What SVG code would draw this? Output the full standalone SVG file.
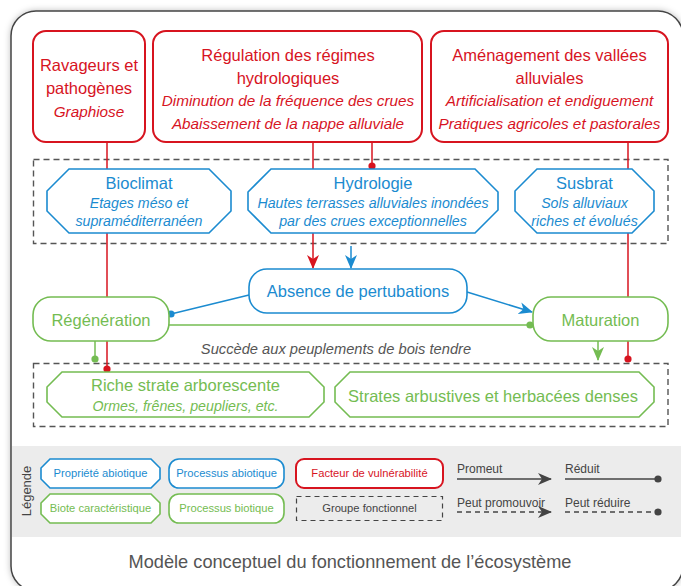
<svg xmlns="http://www.w3.org/2000/svg" width="681" height="586" viewBox="0 0 681 586">
<style>
text{font-family:"Liberation Sans",Arial,sans-serif;}
.t{font-size:16.5px;text-anchor:middle;}
.i{font-size:15.3px;font-style:italic;text-anchor:middle;}
.hi{font-size:14.2px;font-style:italic;text-anchor:middle;}
.red{fill:#d7141f;}
.blue{fill:#1b8bd0;}
.green{fill:#74bc52;}
.fr{fill:#fff;stroke:#d7141f;stroke-width:2;}
.fb{fill:#fff;stroke:#1b8bd0;stroke-width:1.6;}
.fg{fill:#fff;stroke:#74bc52;stroke-width:1.6;}
.grp{fill:none;stroke:#555;stroke-width:1.4;stroke-dasharray:6 4;}
.cr{stroke:#d7141f;stroke-width:1.5;fill:none;}
.cb{stroke:#1b8bd0;stroke-width:1.5;fill:none;}
.cg{stroke:#74bc52;stroke-width:1.5;fill:none;}
.ck{stroke:#444;stroke-width:1.5;fill:none;}
.lg{font-size:11.2px;text-anchor:middle;}
.ll{font-size:12px;fill:#444;}
</style>
<defs>
<filter id="sh" x="-5%" y="-5%" width="110%" height="110%"><feDropShadow dx="0" dy="0" stdDeviation="3" flood-color="#000" flood-opacity="0.25"/></filter>
<marker id="ar" viewBox="0 0 14 12" refX="13" refY="6" markerWidth="14" markerHeight="12" markerUnits="userSpaceOnUse" orient="auto"><path d="M0,0 L14,6 L0,12 L4,6 z" fill="#d7141f"/></marker>
<marker id="ab" viewBox="0 0 14 12" refX="13" refY="6" markerWidth="14" markerHeight="12" markerUnits="userSpaceOnUse" orient="auto"><path d="M0,0 L14,6 L0,12 L4,6 z" fill="#1b8bd0"/></marker>
<marker id="ag" viewBox="0 0 14 12" refX="13" refY="6" markerWidth="14" markerHeight="12" markerUnits="userSpaceOnUse" orient="auto"><path d="M0,0 L14,6 L0,12 L4,6 z" fill="#74bc52"/></marker>
<marker id="ak" viewBox="0 0 14 12" refX="13" refY="6" markerWidth="14" markerHeight="12" markerUnits="userSpaceOnUse" orient="auto"><path d="M0,0 L14,6 L0,12 L4,6 z" fill="#444"/></marker>
<marker id="dr" viewBox="0 0 10 10" refX="5" refY="5" markerWidth="8" markerHeight="8" markerUnits="userSpaceOnUse"><circle cx="5" cy="5" r="4.5" fill="#d7141f"/></marker>
<marker id="db" viewBox="0 0 10 10" refX="5" refY="5" markerWidth="8" markerHeight="8" markerUnits="userSpaceOnUse"><circle cx="5" cy="5" r="4.5" fill="#1b8bd0"/></marker>
<marker id="dg" viewBox="0 0 10 10" refX="5" refY="5" markerWidth="8" markerHeight="8" markerUnits="userSpaceOnUse"><circle cx="5" cy="5" r="4.5" fill="#74bc52"/></marker>
<marker id="dk" viewBox="0 0 10 10" refX="5" refY="5" markerWidth="8" markerHeight="8" markerUnits="userSpaceOnUse"><circle cx="5" cy="5" r="4.5" fill="#444"/></marker>
</defs>
<rect x="0" y="0" width="681" height="586" fill="#fff"/>
<g id="frame">
<rect x="11" y="11" width="672" height="580" rx="25" fill="#fff" stroke="#444" stroke-width="1.5" filter="url(#sh)"/>
<path d="M12,446 H682 V537 H12 Z" fill="#ececec"/>
</g>
<g id="groups">
<rect class="grp" x="33.5" y="159.5" width="634.5" height="84"/>
<rect class="grp" x="33.5" y="363.5" width="634.5" height="63"/>
</g>
<g id="connectors">
<path class="cr" d="M107,142 V369" marker-end="url(#dr)"/>
<path class="cr" d="M313,142 V268" marker-end="url(#ar)"/>
<path class="cr" d="M372,142 V166" marker-end="url(#dr)"/>
<path class="cr" d="M628,142 V359" marker-end="url(#dr)"/>
<path class="cb" d="M351,246 V268" marker-end="url(#ab)"/>
<path class="cb" d="M249,295 L171,314" marker-end="url(#db)"/>
<path class="cb" d="M467,292 L532,312" marker-end="url(#ab)"/>
<path class="cg" d="M169,325 H530" marker-end="url(#dg)"/>
<path class="cg" d="M95,341 V359" marker-end="url(#dg)"/>
<path class="cg" d="M598,341 V360" marker-end="url(#ag)"/>
</g>
<g id="ravageurs">
<rect class="fr" x="33" y="31" width="112" height="111" rx="13"/>
<text class="t red" x="89" y="71">Ravageurs et</text>
<text class="t red" x="89" y="94">pathogènes</text>
<text class="i red" x="89" y="117">Graphiose</text>
</g>
<g id="regulation">
<rect class="fr" x="153" y="31" width="269" height="111" rx="13"/>
<text class="t red" x="288" y="61">Régulation des régimes</text>
<text class="t red" x="288" y="84">hydrologiques</text>
<text class="i red" x="288" y="106">Diminution de la fréquence des crues</text>
<text class="i red" x="288" y="129">Abaissement de la nappe alluviale</text>
</g>
<g id="amenagement">
<rect class="fr" x="431" y="31" width="237" height="111" rx="13"/>
<text class="t red" x="549.5" y="61">Aménagement des vallées</text>
<text class="t red" x="549.5" y="84">alluviales</text>
<text class="i red" x="549.5" y="106">Artificialisation et endiguement</text>
<text class="i red" x="549.5" y="129">Pratiques agricoles et pastorales</text>
</g>
<g id="bioclimat">
<path class="fb" d="M69,169 H209 L231,191 V211 L209,233 H69 L47,211 V191 Z"/>
<text class="t blue" x="139" y="189">Bioclimat</text>
<text class="hi blue" x="139" y="208">Etages méso et</text>
<text class="hi blue" x="139" y="226">supraméditerranéen</text>
</g>
<g id="hydrologie">
<path class="fb" d="M271,169 H475 L498,192 V210 L475,233 H271 L248,210 V192 Z"/>
<text class="t blue" x="373" y="189">Hydrologie</text>
<text class="hi blue" x="373" y="208">Hautes terrasses alluviales inondées</text>
<text class="hi blue" x="373" y="226">par des crues exceptionnelles</text>
</g>
<g id="susbrat">
<path class="fb" d="M537,169 H632 L654,191 V211 L632,233 H537 L515,211 V191 Z"/>
<text class="t blue" x="584.5" y="189">Susbrat</text>
<text class="hi blue" x="584.5" y="208">Sols alluviaux</text>
<text class="hi blue" x="584.5" y="226">riches et évolués</text>
</g>
<g id="absence">
<rect class="fb" x="249" y="269" width="218" height="44" rx="18"/>
<text class="t blue" x="358" y="297">Absence de pertubations</text>
</g>
<g id="regeneration">
<rect class="fg" x="33" y="297" width="136" height="44" rx="18"/>
<text class="t green" x="101" y="326">Régénération</text>
</g>
<g id="maturation">
<rect class="fg" x="533" y="297" width="135" height="44" rx="18"/>
<text class="t green" x="600.5" y="326">Maturation</text>
</g>
<text x="336" y="354" style="font-size:14.7px;font-style:italic;text-anchor:middle;fill:#555">Succède aux peuplements de bois tendre</text>
<g id="riche">
<path class="fg" d="M62,372 H309 L324,387 V402 L309,417 H62 L47,402 V387 Z"/>
<text class="t green" x="185.5" y="391">Riche strate arborescente</text>
<text class="hi green" x="185.5" y="411">Ormes, frênes, peupliers, etc.</text>
</g>
<g id="strates">
<path class="fg" d="M350,372 H639 L654,387 V402 L639,417 H350 L335,402 V387 Z"/>
<text class="t green" x="493" y="402">Strates arbustives et herbacées denses</text>
</g>
<g id="legend">
<text x="31" y="491" transform="rotate(-90 31 491)" style="font-size:13px;fill:#444;text-anchor:middle">Légende</text>
<path class="fb" d="M50,459 H151 L160,468 V479 L151,488 H50 L41,479 V468 Z"/>
<text class="lg blue" x="100.5" y="477">Propriété abiotique</text>
<rect class="fb" x="169" y="459" width="115" height="29" rx="10"/>
<text class="lg blue" x="226.5" y="477">Processus abiotique</text>
<rect class="fr" x="296" y="459" width="147" height="29" rx="8"/>
<text class="lg red" x="369.5" y="477">Facteur de vulnérabilité</text>
<path class="fg" d="M50,494 H151 L160,503 V514 L151,523 H50 L41,514 V503 Z"/>
<text class="lg green" x="100.5" y="512">Biote caractéristique</text>
<rect class="fg" x="169" y="494" width="115" height="29" rx="10"/>
<text class="lg green" x="226.5" y="512">Processus biotique</text>
<rect x="296.5" y="496.5" width="146" height="24" fill="none" stroke="#444" stroke-width="1.2" stroke-dasharray="5 4"/>
<text class="lg" x="369.5" y="512" style="fill:#444">Groupe fonctionnel</text>
<text class="ll" x="457" y="473">Promeut</text>
<path class="ck" d="M457,479 H551" marker-end="url(#ak)"/>
<text class="ll" x="565" y="473">Réduit</text>
<path class="ck" d="M565,479 H658" marker-end="url(#dk)"/>
<text class="ll" x="457" y="507">Peut promouvoir</text>
<path class="ck" d="M457,512 H551" stroke-dasharray="5 4" marker-end="url(#ak)"/>
<text class="ll" x="565" y="507">Peut réduire</text>
<path class="ck" d="M565,512 H658" stroke-dasharray="5 4" marker-end="url(#dk)"/>
</g>
<text x="350" y="568" style="font-size:18.2px;fill:#555;text-anchor:middle">Modèle conceptuel du fonctionnement de l’écosystème</text>
</svg>
